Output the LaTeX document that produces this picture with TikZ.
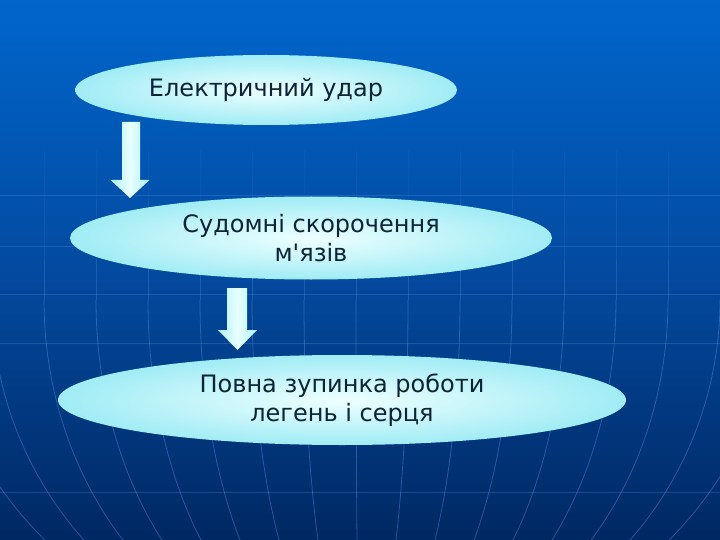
\documentclass[tikz,border=0pt]{standalone}
\usepackage{fontspec}
\setmainfont{DejaVu Sans}
\usetikzlibrary{calc,shapes.geometric}
\definecolor{bgtop}{RGB}{0,102,204}
\definecolor{bgmid}{RGB}{3,74,160}
\definecolor{bgbot}{RGB}{0,40,98}
\definecolor{gridc}{RGB}{80,140,225}
\definecolor{ellin}{RGB}{238,255,255}
\definecolor{ellout}{RGB}{160,236,245}
\definecolor{txt}{RGB}{12,36,56}
\definecolor{arrside}{RGB}{175,240,246}
\definecolor{arrmid}{RGB}{232,255,255}
\begin{document}
\begin{tikzpicture}[x=1pt,y=-1pt,
  ell/.style={shape=ellipse, inner sep=0pt, inner color=ellin, outer color=ellout,
              text=txt, align=center,
              font=\fontsize{24}{28.8}\selectfont},
  arrowfill/.style={left color=arrside, right color=arrside, middle color=arrmid},
  hline/.style={draw=gridc, line width=0.7pt, opacity=0.3},
  mline/.style={draw=gridc, line width=0.8pt}
]
% background
\fill[top color=bgtop, bottom color=bgbot, middle color=bgmid] (0,0) rectangle (720,540);
\useasboundingbox (0,0) rectangle (720,540);

% horizontal grid lines
\foreach \yy in {195,246,294,343,492}
  \draw[hline] (0,\yy) -- (720,\yy);

% meridians
\foreach \k in {-8,...,8}{
  \pgfmathsetmacro{\xe}{356+52*\k}
  \draw[mline, opacity=0.08] (\xe,150) -- (\xe,200);
  \draw[mline, opacity=0.18] (\xe,200) -- (\xe,260);
  \draw[mline, opacity=0.3] (\xe,260) -- (\xe,300);
  \draw[mline, opacity=0.45] plot[domain=300:540, samples=30, smooth]
     ({360+(\xe-360)*sqrt(1-((\x-300)/363)^2)}, \x);
}

% ellipses
\node[ell, minimum width=382pt, minimum height=70pt] (e1) at (266,90) {Електричний удар};
\node[ell, minimum width=482pt, minimum height=83pt] (e2) at (311,238) {Судомні скорочення\\м\textquotesingle язів};
\node[ell, minimum width=568pt, minimum height=90pt] (e3) at (342,400) {Повна зупинка роботи\\легень і серця};

% block arrows
\coordinate (a1s) at (131,122);
\coordinate (a1t) at (130,198);
\path[arrowfill] ($(a1s)+(-9,0)$) -- ($(a1s)+(9,0)$) -- ($(a1t)+(10,-18)$)
  -- ($(a1t)+(19.5,-18)$) -- (a1t) -- ($(a1t)+(-19.5,-18)$) -- ($(a1t)+(-8,-18)$) -- cycle;
\coordinate (a2s) at (237,288);
\coordinate (a2t) at (237.5,350);
\path[arrowfill] ($(a2s)+(-10,0)$) -- ($(a2s)+(10,0)$) -- ($(a2t)+(9.5,-20)$)
  -- ($(a2t)+(19.5,-20)$) -- (a2t) -- ($(a2t)+(-19.5,-20)$) -- ($(a2t)+(-10.5,-20)$) -- cycle;
\end{tikzpicture}
\end{document}
